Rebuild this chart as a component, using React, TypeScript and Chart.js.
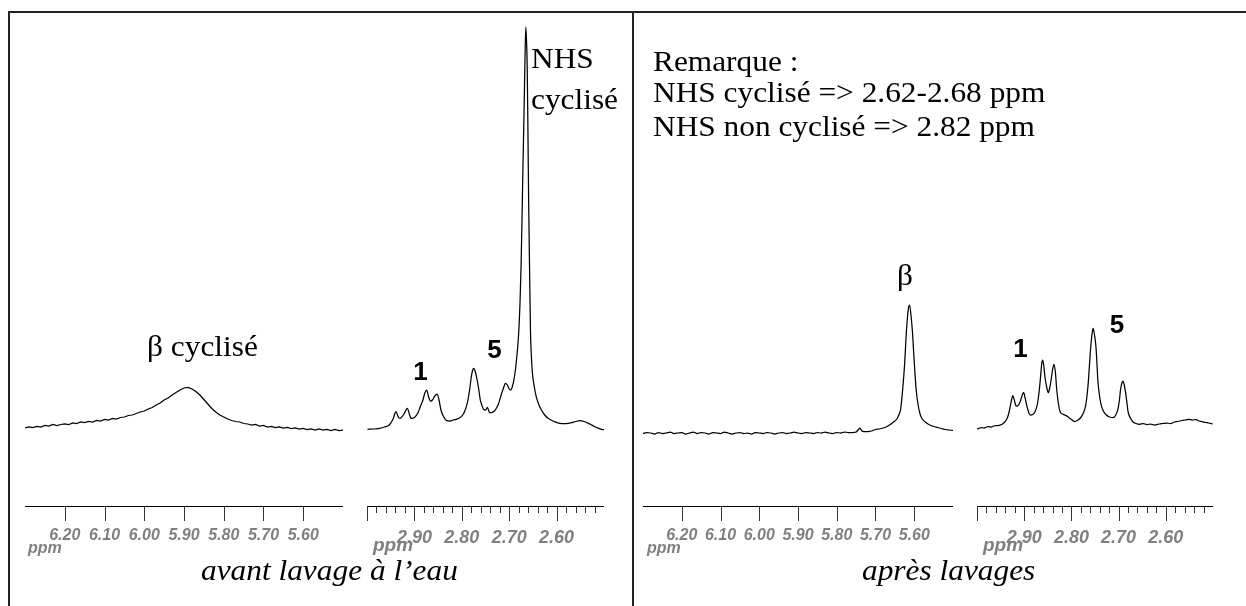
import React, { useEffect, useRef } from "react";
import { Chart, registerables } from "chart.js";
Chart.register(...registerables);

// ---------- DATA ----------
// Panel A (avant lavage) – broad region, ppm
const A_BROAD_PPM = [6.30,6.29,6.28,6.27,6.26,6.25,6.24,6.23,6.22,6.21,6.20,6.19,6.18,6.17,6.16,6.15,6.14,6.13,6.12,6.11,6.10,6.09,6.08,6.07,6.06,6.05,6.04,6.03,6.02,6.01,6.00,5.99,5.98,5.97,5.96,5.95,5.94,5.93,5.92,5.91,5.90,5.89,5.88,5.87,5.86,5.85,5.84,5.83,5.82,5.81,5.80,5.79,5.78,5.77,5.76,5.75,5.74,5.73,5.72,5.71,5.70,5.69,5.68,5.67,5.66,5.65,5.64,5.63,5.62,5.61,5.60,5.59,5.58,5.57,5.56,5.55,5.54,5.53,5.52,5.51,5.50];
const A_BROAD_INT = [2,3,2.5,3.5,3,4.5,4,5.5,4.5,5.5,6,5.5,7,6.5,8,7.5,8.5,8,9.5,9,10.5,10,11.5,11,12.5,13,14.5,15,16.5,18,19,21,22.5,25,27,30,32,35,37.5,40,42,42.5,41,38.5,35,30.5,26,21.5,18,15,13,11,9.5,8.5,8,6.5,6,5,5.5,4,4.5,3,3.5,2.5,3,2,2.5,1.5,2,1,1.5,0.5,1,0,1,0,0.5,-0.5,0.5,-0.5,0];

// Panel A – narrow region 3.00–2.50 ppm
const A_NARROW_PPM = [2.999,2.985,2.974,2.963,2.953,2.945,2.939,2.934,2.930,2.922,2.915,2.910,2.907,2.900,2.893,2.887,2.882,2.878,2.874,2.870,2.866,2.862,2.857,2.852,2.848,2.844,2.838,2.832,2.825,2.818,2.812,2.805,2.798,2.792,2.787,2.783,2.780,2.777,2.775,2.772,2.768,2.764,2.761,2.757,2.754,2.750,2.746,2.743,2.741,2.736,2.731,2.727,2.722,2.717,2.712,2.708,2.704,2.700,2.697,2.693,2.689,2.685,2.680,2.677,2.675,2.673,2.671,2.669,2.667,2.665,2.6635,2.662,2.6605,2.659,2.657,2.655,2.653,2.651,2.647,2.643,2.638,2.632,2.625,2.618,2.605,2.593,2.580,2.569,2.560,2.551,2.542,2.530,2.518,2.505,2.500];
const A_NARROW_INT = [0.7,1,1.7,3,5,11,18.3,13,11.7,16,21.7,15,11.7,12.5,16.7,24,30,37,40,33,29,30,34,36,30,20,13,9.3,9,10,10.7,12,15,21,30,42,53,60,61.7,59,51,40,30,24,20.7,20,22.7,19,17.3,17.5,19,21.7,27,35,42,46.7,45,41,40,44,53,68,96.7,130,163,210,263,310,363,403,390,363,300,230,160,96.7,72,56.7,43,33.3,26,20,15,11.7,8.5,6.7,6.5,7.3,8.5,9.3,8.5,6,3,0.7,0.3];

// Panel B (après lavages) – broad region
const B_BROAD_PPM = [6.30,6.29,6.28,6.27,6.26,6.25,6.24,6.23,6.22,6.21,6.20,6.19,6.18,6.17,6.16,6.15,6.14,6.13,6.12,6.11,6.10,6.09,6.08,6.07,6.06,6.05,6.04,6.03,6.02,6.01,6.00,5.99,5.98,5.97,5.96,5.95,5.94,5.93,5.92,5.91,5.90,5.89,5.88,5.87,5.86,5.85,5.84,5.83,5.82,5.81,5.80,5.79,5.78,5.77,5.76,5.75,5.745,5.74,5.735,5.73,5.72,5.71,5.70,5.69,5.68,5.67,5.66,5.65,5.645,5.64,5.635,5.63,5.625,5.62,5.615,5.612,5.608,5.605,5.60,5.595,5.59,5.585,5.58,5.57,5.56,5.55,5.54,5.53,5.52,5.51,5.50];
const B_BROAD_INT = [-3.5,-2.5,-3,-4,-2.5,-3.5,-3,-2,-3.5,-3,-2.5,-4,-3,-2,-3.5,-2.5,-3,-4,-2.5,-3,-3.5,-2,-3,-4,-3,-2.5,-3.5,-3,-4,-2.5,-3,-3.5,-2.5,-3,-4,-3,-2.5,-3.5,-3,-2,-3,-3.5,-2.5,-3,-3.5,-2.5,-3,-2,-3,-3.5,-2.5,-3,-2,-2.5,-2.5,-2,0,2,-1,-1.5,-1.5,-1,0.5,1,2,3.5,6,9,11,15,21,40,65,100,122,125,113,100,68,40,25,16,11.5,7.5,5,3.5,2.5,1.5,0.5,0,-0.5];

// Panel B – narrow region 3.00–2.50 ppm
const B_NARROW_PPM = [3.000,2.996,2.990,2.985,2.980,2.975,2.970,2.965,2.960,2.955,2.951,2.946,2.941,2.936,2.932,2.929,2.926,2.924,2.921,2.917,2.913,2.910,2.906,2.903,2.901,2.898,2.894,2.890,2.887,2.882,2.877,2.872,2.868,2.865,2.863,2.861,2.859,2.856,2.852,2.849,2.846,2.843,2.840,2.837,2.834,2.831,2.828,2.824,2.819,2.814,2.808,2.800,2.793,2.786,2.780,2.775,2.770,2.765,2.762,2.759,2.756,2.754,2.751,2.748,2.746,2.744,2.740,2.736,2.731,2.726,2.719,2.712,2.706,2.701,2.698,2.696,2.693,2.691,2.688,2.685,2.682,2.680,2.675,2.670,2.663,2.656,2.648,2.640,2.632,2.624,2.614,2.606,2.598,2.590,2.582,2.574,2.566,2.558,2.551,2.544,2.536,2.530,2.523,2.516,2.509,2.501];
const B_NARROW_INT = [1,1.7,2.5,2,3,3.3,3,4,4.5,4.5,5,6,8,11.7,18,25,32,34.3,30,24,24.5,26.7,32,36.5,37.3,32,23.3,17,15,15.5,18.3,26,40,55,66,70,66,53,42,37.3,42,50,60,65.7,58,40,28,18.3,16,15,13.5,10.5,8.3,10,12.5,16.7,24,43.3,63,83.3,97,101.7,95,83.3,68,50,33,23.3,18,15,13,12.3,15,21.7,31,40,47,49,45,36.7,26,18.3,12,8.3,6.5,5.7,6.5,5.5,6,5,6,6.5,7,6.5,8,8.5,9.5,10,10.7,10,10.5,9,8.3,7.5,7,6];

// Axis ticks
const BROAD_TICKS = [6.20, 6.10, 6.00, 5.90, 5.80, 5.70, 5.60];
const BROAD_LABELS = [6.20, 6.10, 6.00, 5.90, 5.80, 5.70, 5.60];
const NARROW_TICKS = [3.00,2.98,2.96,2.94,2.92,2.90,2.88,2.86,2.84,2.82,2.80,2.78,2.76,2.74,2.72,2.70,2.68,2.66,2.64,2.62,2.60,2.58,2.56,2.54,2.52];
const NARROW_MAJOR = [3.00, 2.90, 2.80, 2.70, 2.60];
const NARROW_LABELS = [2.90, 2.80, 2.70, 2.60];

// ---------- COMPONENTS ----------
const SANS = '"Liberation Sans", Arial, sans-serif';
const SERIF = '"Liberation Serif", "Times New Roman", serif';

const CHART_TOP = 20;
const AXIS_Y = 506;
const AXIS_H = 40;

type PanelProps = {
  left: number;
  width: number;
  ppm: number[];
  intensity: number[];
  xMin: number;
  xMax: number;
  ticks: number[];
  labels: number[];
  majors: number[];
  fontSize: number;
  labelPad: number;
  smooth: boolean;
};

const near = (arr: number[], v: number) => arr.some((a) => Math.abs(a - v) < 1e-6);

function SpectrumPanel(p: PanelProps) {
  const ref = useRef<HTMLCanvasElement | null>(null);
  useEffect(() => {
    if (!ref.current) return;
    const tickPlugin = {
      id: "tickMarks",
      afterDraw(chart: any) {
        const s = chart.scales.x;
        const ctx = chart.ctx;
        ctx.save();
        ctx.strokeStyle = "#333";
        ctx.lineWidth = 1;
        for (const t of s.ticks) {
          const px = Math.round(s.getPixelForValue(t.value)) + 0.5;
          const len = near(p.majors, t.value) ? 15 : 7;
          ctx.beginPath();
          ctx.moveTo(px, s.top);
          ctx.lineTo(px, s.top + len);
          ctx.stroke();
        }
        ctx.restore();
      },
    };
    const chart = new Chart(ref.current, {
      type: "line",
      data: {
        datasets: [
          {
            data: p.ppm.map((x, i) => ({ x, y: p.intensity[i] })),
            borderColor: "#000",
            borderWidth: 1.25,
            pointRadius: 0,
            fill: false,
            tension: 0,
            cubicInterpolationMode: p.smooth ? "monotone" : "default",
          } as any,
        ],
      },
      options: {
        animation: false,
        responsive: false,
        maintainAspectRatio: false,
        events: [],
        layout: { padding: 0 },
        plugins: { legend: { display: false }, tooltip: { enabled: false } },
        scales: {
          x: {
            type: "linear",
            reverse: true,
            min: p.xMin,
            max: p.xMax,
            afterBuildTicks: (s: any) => {
              s.ticks = p.ticks.map((v) => ({ value: v }));
            },
            afterFit: (s: any) => {
              s.height = AXIS_H;
              s.paddingLeft = 0;
              s.paddingRight = 0;
            },
            grid: {
              display: true,
              drawOnChartArea: false,
              drawTicks: true,
              tickLength: 15,
              color: "rgba(0,0,0,0)",
            },
            border: { display: true, color: "#000", width: 1 },
            ticks: {
              autoSkip: false,
              maxRotation: 0,
              minRotation: 0,
              padding: p.labelPad,
              color: "#808080",
              font: { family: SANS, size: p.fontSize, weight: "bold", style: "italic" },
              callback: (v: any) => (near(p.labels, Number(v)) ? Number(v).toFixed(2) : ""),
            },
          },
          y: { display: false, min: -76, max: 410 },
        },
      } as any,
      plugins: [tickPlugin],
    });
    return () => chart.destroy();
  }, []);
  const h = AXIS_Y - CHART_TOP + AXIS_H;
  return (
    <canvas
      ref={ref}
      width={p.width}
      height={h}
      style={{ position: "absolute", left: p.left, top: CHART_TOP, width: p.width, height: h }}
    />
  );
}

type TxtProps = {
  x: number;
  base: number;
  size: number;
  serif?: boolean;
  italic?: boolean;
  bold?: boolean;
  color?: string;
  center?: boolean;
  children: React.ReactNode;
};

function Txt({ x, base, size, serif, italic, bold, color, center, children }: TxtProps) {
  const asc = serif ? 0.8375 : 0.8465;
  const tf: string[] = [];
  if (center) tf.push("translateX(-50%)");
  if (serif) tf.push("scaleX(1.045)");
  return (
    <div
      style={{
        position: "absolute",
        left: x,
        top: base - asc * size,
        fontSize: size,
        lineHeight: `${size}px`,
        fontFamily: serif ? SERIF : SANS,
        fontStyle: italic ? "italic" : "normal",
        fontWeight: bold ? "bold" : "normal",
        color: color || "#000",
        whiteSpace: "nowrap",
        transform: tf.length ? tf.join(" ") : undefined,
        transformOrigin: center ? "50% 50%" : "0 50%",
      }}
    >
      {children}
    </div>
  );
}

export default function App() {
  return (
    <div
      style={{
        position: "fixed",
        left: 0,
        top: 0,
        width: 1246,
        height: 606,
        background: "#fff",
        overflow: "hidden",
      }}
    >
      {/* frame */}
      <div style={{ position: "absolute", left: 8, top: 11, width: 1238, height: 2, background: "#222" }} />
      <div style={{ position: "absolute", left: 8, top: 11, width: 2, height: 595, background: "#222" }} />
      <div style={{ position: "absolute", left: 632, top: 11, width: 2, height: 595, background: "#222" }} />

      <SpectrumPanel left={25} width={318} ppm={A_BROAD_PPM} intensity={A_BROAD_INT} xMin={5.5} xMax={6.3}
        ticks={BROAD_TICKS} labels={BROAD_LABELS} majors={BROAD_TICKS} fontSize={16} labelPad={5} smooth={false} />
      <SpectrumPanel left={367} width={237} ppm={A_NARROW_PPM} intensity={A_NARROW_INT} xMin={2.5} xMax={3.0}
        ticks={NARROW_TICKS} labels={NARROW_LABELS} majors={NARROW_MAJOR} fontSize={18} labelPad={6} smooth={true} />
      <SpectrumPanel left={643} width={310} ppm={B_BROAD_PPM} intensity={B_BROAD_INT} xMin={5.5} xMax={6.3}
        ticks={BROAD_TICKS} labels={BROAD_LABELS} majors={BROAD_TICKS} fontSize={16} labelPad={5} smooth={true} />
      <SpectrumPanel left={977} width={236} ppm={B_NARROW_PPM} intensity={B_NARROW_INT} xMin={2.5} xMax={3.0}
        ticks={NARROW_TICKS} labels={NARROW_LABELS} majors={NARROW_MAJOR} fontSize={18} labelPad={6} smooth={true} />

      {/* ppm axis units */}
      <Txt x={28} base={554} size={16} bold italic color="#808080">ppm</Txt>
      <Txt x={373} base={551} size={19} bold italic color="#808080">ppm</Txt>
      <Txt x={647} base={554} size={16} bold italic color="#808080">ppm</Txt>
      <Txt x={983} base={551} size={19} bold italic color="#808080">ppm</Txt>

      {/* annotations */}
      <Txt x={147} base={356} size={30} serif>β cyclisé</Txt>
      <Txt x={531} base={68} size={30} serif>NHS</Txt>
      <Txt x={531} base={109} size={30} serif>cyclisé</Txt>
      <Txt x={420.5} base={380} size={26} bold center>1</Txt>
      <Txt x={494.5} base={358} size={26} bold center>5</Txt>
      <Txt x={905} base={285} size={30} serif center>β</Txt>
      <Txt x={1020.5} base={357} size={26} bold center>1</Txt>
      <Txt x={1117} base={333} size={26} bold center>5</Txt>

      <Txt x={653} base={71} size={30} serif>Remarque :</Txt>
      <Txt x={653} base={102} size={30} serif>NHS cyclisé =&gt; 2.62-2.68 ppm</Txt>
      <Txt x={653} base={136} size={30} serif>NHS non cyclisé =&gt; 2.82 ppm</Txt>

      <Txt x={201} base={580} size={30} serif italic>avant lavage à l’eau</Txt>
      <Txt x={862} base={580} size={30} serif italic>après lavages</Txt>
    </div>
  );
}
